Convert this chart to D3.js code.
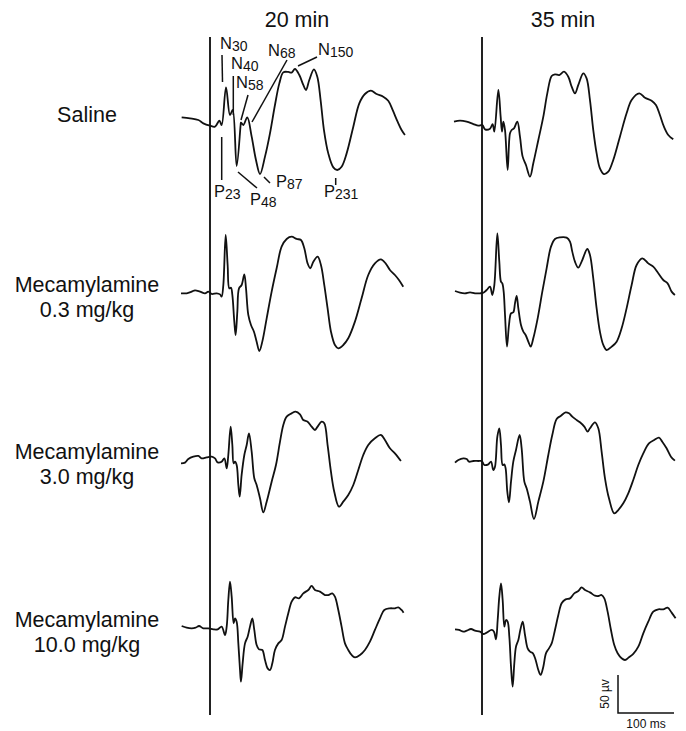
<!DOCTYPE html>
<html>
<head>
<meta charset="utf-8">
<script src="https://cdn.jsdelivr.net/npm/d3@7"></script>
<style>
  body { margin: 0; background: #fff; }
  svg text { font-family: "Liberation Sans", Arial, Helvetica, sans-serif; fill: #111; }
</style>
</head>
<body>
<div class="erp"></div>
<script>
// declare global values
const WIDTH = 686;
const HEIGHT = 731;

// column headers and row labels
const columns = ["20 min", "35 min"];
const rowLabels = [
  ["Saline"],
  ["Mecamylamine", "0.3 mg/kg"],
  ["Mecamylamine", "3.0 mg/kg"],
  ["Mecamylamine", "10.0 mg/kg"],
];

// waveforms: [time (ms), amplitude (µV, negative up)]
const saline20 = [
  [-50.6, -3.5], [-35.7, -2.2], [-20.8, 0], [-11.9, 4.4], [0, 7.5], [8.9, 8.8],
  [16.7, 0.9], [20.8, 6.6], [28.6, -43], [35.7, -6.6], [40.5, -13.2], [47.6, 60.5],
  [54.7, 6.6], [55.3, 3.5], [59.5, 6.6], [66.6, -3.5], [74.4, 21.9], [82.1, 52.6],
  [89.3, 71.1], [98.2, 48.2], [107.1, 17.5], [116, -19.7], [123.8, -48.2], [130.9, -62.7],
  [139.8, -63.2], [145.8, -62.3], [151.7, -67.1], [159.5, -59.2], [166.6, -46.1], [171.4, -39.5],
  [177.3, -52.6], [185.6, -66.7], [191.6, -57], [197.5, -26.3], [203.5, 13.2], [211.2, 43.9],
  [220.2, 62.3], [227.3, 65.8], [235, 61.4], [244, 43.9], [255.9, 8.8], [266.6, -21.9],
  [276.7, -34.2], [287.4, -38.6], [297.5, -34.2], [309.4, -30.7], [318.3, -25.4], [326.1, -13.2],
  [335, 2.2], [342.1, 13.2], [348.1, 19.7],
];
const saline35 = [
  [-50, 2.2], [-39.3, 0.9], [-27.4, 2.2], [-15.5, 5.3], [-6.5, 7.5], [0.6, 6.6],
  [5.4, 12.3], [14.3, 11.4], [19, 5.3], [22, 15.4], [29.2, -39.5], [33.3, -4.4],
  [35.7, 15.4], [38.1, 2.2], [41.1, 13.2], [45.8, 65.8], [50, 17.5], [53, 13.2],
  [57.1, 11], [63.1, 2.2], [67.8, 21.9], [72.6, 48.2], [78.5, 59.2], [85.7, 74.6],
  [91.6, 57], [100.6, 26.3], [109.5, -4.4], [116.6, -35.1], [124.4, -57.9], [130.3, -60.1],
  [138, -59.2], [146.4, -63.6], [154.1, -57], [160.1, -43.9], [166, -35.1], [172, -46.1],
  [180.9, -61.4], [186.8, -54.8], [192.8, -26.3], [198.7, 13.2], [204.7, 43.9], [210.6, 63.6],
  [217.8, 71.1], [225.5, 68], [234.4, 52.6], [246.3, 21.9], [258.2, -8.8], [267.2, -26.3],
  [280.8, -35.1], [291, -29.4], [302.9, -25.4], [310.6, -19.7], [317.7, -6.6], [324.9, 8.8],
  [332.6, 19.7], [341.5, 25.4],
];
const mec03_20 = [
  [-51.8, 0.4], [-41.7, 0.4], [-32.7, -1.8], [-26.8, -3.5], [-17.9, -1.8], [-8.9, 0.4],
  [-3, -1.8], [3, 1.3], [11.9, 0.4], [17.9, 1.8], [20.8, 4.8], [23.8, -10.5],
  [28, -76.3], [31.5, -36.8], [34.5, -6.1], [37.5, -7], [39.9, 2.6], [43.4, 37.7],
  [45.8, 55.3], [48.8, 24.6], [51.8, -6.1], [56.5, -10.5], [61.3, -24.6], [64.3, -6.1],
  [68.4, 28.9], [73.2, 42.1], [78.5, 50.9], [83.3, 64], [88.1, 76.3], [93.4, 64],
  [101.2, 33.3], [110.1, -1.8], [119, -32.5], [127.9, -61], [136.9, -71.1], [145.8, -74.1],
  [154.7, -71.1], [162.4, -69.7], [168.4, -58.8], [174.3, -39], [179.1, -32.5], [184.5, -41.2],
  [192.2, -47.8], [198.1, -36.8], [204.1, -10.5], [210, 20.2], [216, 50.9], [223.1, 68.4],
  [229.1, 72.8], [238, 68.4], [246.9, 59.6], [258.8, 37.7], [270.7, 7], [282.6, -23.7],
  [294.5, -39], [305.2, -44.3], [313.6, -39], [321.3, -30.3], [330.2, -23.7], [337.4, -17.1],
  [345.1, -8.3],
];
const mec03_35 = [
  [-48.2, -2.6], [-39.3, -0.4], [-30.3, 0.4], [-21.4, -0.9], [-12.5, 0.4], [-3.6, 0.4],
  [2.4, -0.4], [8.3, -3.9], [14.3, -8.3], [18.4, 2.6], [22, -10.5], [27.4, -78.5],
  [30.9, -41.2], [33.9, -14.9], [36.3, -12.7], [38.7, -1.8], [41.1, 28.9], [44.6, 70.6],
  [48.2, 42.1], [51.8, 26.8], [55.9, 25.4], [58.9, 13.6], [61.9, 3.9], [64.9, 20.2],
  [69.6, 42.1], [73.8, 50.9], [77.9, 55.3], [82.7, 64], [86.9, 70.6], [91.6, 59.6],
  [99.4, 33.3], [107.7, -1.8], [115.4, -32.5], [123.2, -61], [130.3, -71.1], [139.2, -73.2],
  [151.1, -72.8], [157.1, -67.5], [161.2, -54.4], [166, -41.2], [171.9, -33.3], [177.9, -41.2],
  [188, -57.9], [192.8, -50], [198.7, -19.3], [204.7, 20.2], [210.6, 50.9], [216.6, 68.4],
  [222.5, 75], [231.5, 70.6], [240.4, 64], [249.3, 46.5], [258.2, 20.2], [267.2, -10.5],
  [276.1, -36.8], [286.2, -45.6], [296.9, -39], [305.8, -34.6], [314.8, -25.9], [323.7, -17.1],
  [331.4, -12.7], [338.6, -1.8], [344.5, 2.6],
];
const mec30_20 = [
  [-51.8, 4.4], [-44.6, 3.5], [-38.7, -1.3], [-29.8, -4.4], [-20.8, -5.3], [-14.9, -2.2],
  [-6, -3.5], [3, -4.4], [8.9, -2.2], [13.7, 3.1], [20.8, 2.2], [25.6, -2.2],
  [29.8, 11], [32.7, -6.6], [36.9, -43.9], [39.9, -19.7], [42.2, 4.4], [44.6, 2.2],
  [47.6, 6.6], [50.6, 32.9], [53, 48.2], [56.5, 19.7], [61.3, -6.6], [65.5, -19.7],
  [69.6, -35.1], [74.4, -11], [79.1, 24.1], [83.3, 32.9], [89.3, 50.4], [95.2, 68.9],
  [101.2, 54.8], [110.1, 28.5], [117.8, 6.6], [125, -24.1], [130.9, -46.1], [136.9, -57],
  [145.8, -61.4], [152.9, -63.6], [160.7, -60.1], [166.6, -52.6], [174.3, -50.4], [181.5, -43.9],
  [187.4, -39.5], [192.2, -43.9], [199.3, -50.4], [204.1, -48.2], [210, -19.7], [216, 15.4],
  [221.9, 41.7], [230.3, 61.4], [238, 54.8], [246.9, 46.1], [255.9, 32.9], [264.8, 13.2],
  [273.7, -6.6], [282.6, -19.7], [294.5, -28.5], [305.2, -32.9], [312.4, -26.3], [321.3, -15.4],
  [330.2, -8.8], [340.9, 1.3],
];
const mec30_35 = [
  [-48.2, 3.5], [-42.2, 0], [-33.3, -2.2], [-27.4, -1.3], [-23.2, 2.2], [-15.5, 1.3],
  [-6.5, 1.3], [-0.6, 1.3], [4.2, 6.6], [11.3, 5.7], [16.1, 2.2], [20.2, 13.2],
  [23.2, 8.8], [27.4, -30.7], [30.9, -41.7], [33.9, -19.7], [36.9, 6.6], [39.9, 5.7],
  [42.2, 11], [45.2, 41.7], [48.2, 55.7], [51.8, 28.5], [55.9, 2.2], [60.7, -13.2],
  [67.2, -32.9], [70.8, -15.4], [75.6, 28.5], [79.7, 37.3], [85.7, 54.8], [92.8, 77.6],
  [100.6, 54.8], [109.5, 28.5], [118.4, -6.6], [125.5, -32.9], [133.3, -53.9], [141, -58.3],
  [149.3, -62.7], [155.3, -61.4], [161.2, -57], [169, -52.6], [174.9, -49.6], [182.7, -43.9],
  [188.6, -37.3], [192.8, -41.7], [201.7, -49.6], [207.7, -41.7], [213.6, -11], [219.6, 24.1],
  [226.7, 50.4], [236.2, 70.2], [243.3, 65.8], [252.3, 57], [261.2, 43.9], [270.1, 26.3],
  [279.1, 6.6], [288, -8.8], [298.1, -21.9], [307.6, -26.3], [316, -29.4], [321.9, -24.1],
  [329.6, -15.4], [337.4, -4.4], [344.5, 0.9],
];
const mec100_20 = [
  [-50.6, -2.6], [-41.7, -0.4], [-32.7, 0.4], [-25.6, -0.4], [-19.6, -2.6], [-11.9, 0.4],
  [-3, 0.4], [6, 1.8], [13.7, 1.8], [20.8, -1.8], [26.8, 9.2], [29.8, -1.8],
  [32.7, -36.8], [35.7, -61], [38.7, -41.2], [42.2, -6.1], [44.6, -12.7], [47.6, -8.3],
  [50.6, 20.2], [53.6, 55.3], [55.3, 70.6], [58.3, 46.5], [62.5, 20.2], [67.2, 11.4],
  [71.4, -1.8], [75.6, -12.7], [79.1, 2.6], [83.3, 22.4], [87.5, 28.1], [93.4, 28.9],
  [98.2, 42.1], [102.9, 53.1], [107.1, 55.3], [111.3, 46.5], [116, 28.9], [122, 20.2],
  [127.9, 15.8], [133.9, -1.8], [139.8, -19.3], [145.8, -34.6], [151.7, -40.4], [158.9, -39],
  [166.6, -45.6], [175.5, -50], [181.5, -55.3], [187.4, -50], [196.4, -47.8], [205.3, -43.4],
  [211.2, -43.4], [218.4, -45.6], [223.1, -41.2], [229.1, -23.7], [235, -1.8], [241, 20.2],
  [246.9, 28.9], [252.9, 35.5], [258.8, 38.6], [267.8, 35.5], [276.7, 28.9], [285.6, 18],
  [294.5, 2.6], [303.5, -12.7], [311.2, -23.7], [321.3, -25.9], [330.2, -25.9], [336.2, -27.2],
  [342.1, -23.7], [345.7, -20.2],
];
const mec100_35 = [
  [-48.2, 1.8], [-41.1, 2.6], [-33.3, 4.8], [-27.4, 3.5], [-19.6, 1.3], [-12.5, 3.5],
  [-3.6, 4.8], [2.4, 7.9], [8.3, 6.1], [17.3, 2.6], [21.4, 4.8], [25, 14.9],
  [28, -10.5], [30.9, -41.2], [33.9, -58.8], [36.9, -36.8], [39.9, -1.8], [42.8, -10.5],
  [45.8, -8.3], [48.8, 11.4], [51.8, 50.9], [54.7, 77.2], [57.7, 46.5], [60.7, 24.6],
  [64.9, 15.8], [68.4, 2.6], [72.6, -8.3], [76.8, 9.2], [81.5, 26.8], [85.7, 31.1],
  [91, 33.3], [95.8, 42.1], [100.6, 55.3], [104.7, 61.8], [109.5, 50.9], [114.2, 33.3],
  [119.6, 26.8], [124.4, 20.2], [130.3, 2.6], [136.3, -17.1], [142.2, -32.5], [149.3, -37.7],
  [157.1, -39], [164.8, -45.6], [172, -48.7], [177.9, -53.5], [183.9, -50], [192.8, -46.9],
  [201.7, -42.5], [207.7, -42.1], [213.6, -43.4], [218.4, -39], [224.3, -21.5], [230.3, 2.6],
  [236.2, 22.4], [242.2, 33.3], [249.3, 39.9], [255.3, 42.1], [262.4, 38.6], [270.1, 34.2],
  [279.1, 24.6], [288, 7], [296.9, -8.3], [305.8, -21.5], [314.8, -24.6], [323.7, -24.6],
  [331.4, -26.8], [338.6, -20.2], [345.7, -12.7],
];

// peak names on the saline 20 min trace
const peakNames = [
  ["N", "30"], ["N", "40"], ["N", "58"], ["N", "68"], ["N", "150"],
  ["P", "23"], ["P", "48"], ["P", "87"], ["P", "231"],
];

// scale bar values
const SCALE_MS = 100;
const SCALE_UV = 50;

// layout
const traces = [
  [saline20, saline35],
  [mec03_20, mec03_35],
  [mec30_20, mec30_35],
  [mec100_20, mec100_35],
];
const ROW_BASE = [120, 293, 460, 628];
const COL_ZERO = [210, 482];
const PX_PER_MS = 0.56;
const PX_PER_UV = 0.76;
const LABEL_X = 87;

// label position + leader line for each peak name
const peakLayout = [
  { x: 220, y: 49, line: [222, 55, 222.5, 82] },
  { x: 231, y: 69, line: [233.3, 76, 233.3, 115] },
  { x: 236, y: 88, line: [248, 95, 241, 120] },
  { x: 268, y: 56, line: [287, 60, 252, 122] },
  { x: 318, y: 55, line: [317, 57, 298, 66] },
  { x: 214, y: 197, line: [221.7, 137, 221.7, 180] },
  { x: 250, y: 205, line: [238, 172, 257, 188] },
  { x: 276, y: 187, line: [264, 177, 270, 183] },
  { x: 324, y: 197, line: [335.7, 178, 335.7, 185] },
];

var svg = d3
  .select(".erp")
  .append("svg")
  .attr("width", WIDTH)
  .attr("height", HEIGHT);

// one x scale per column, one y scale per row
var xs = COL_ZERO.map(function (z) {
  return d3.scaleLinear().domain([0, 100]).range([z, z + 100 * PX_PER_MS]);
});
var ys = ROW_BASE.map(function (b) {
  return d3.scaleLinear().domain([0, 100]).range([b, b + 100 * PX_PER_UV]);
});

// stimulus onset lines
xs.forEach(function (x) {
  svg
    .append("line")
    .attr("x1", x(0))
    .attr("x2", x(0))
    .attr("y1", 37)
    .attr("y2", 715)
    .attr("stroke", "#222")
    .attr("stroke-width", 2);
});

// column headers
columns.forEach(function (c, i) {
  svg
    .append("text")
    .attr("x", i == 0 ? 297 : 563)
    .attr("y", 27)
    .attr("text-anchor", "middle")
    .attr("font-size", 21.5)
    .text(c);
});

// row labels
rowLabels.forEach(function (lines, r) {
  var t = svg
    .append("text")
    .attr("text-anchor", "middle")
    .attr("font-size", 21.5);
  lines.forEach(function (s, k) {
    t.append("tspan")
      .attr("x", LABEL_X)
      .attr("y", ROW_BASE[r] + (lines.length == 1 ? 2 : -1 + k * 24.5))
      .text(s);
  });
});

// the waveforms
traces.forEach(function (row, r) {
  row.forEach(function (data, c) {
    var valueLine = d3
      .line()
      .x(function (d) {
        return xs[c](d[0]);
      })
      .y(function (d) {
        return ys[r](d[1]);
      })
      .curve(d3.curveCatmullRom.alpha(0.5));

    svg
      .append("path")
      .datum(data)
      .attr("d", valueLine)
      .attr("fill", "none")
      .attr("stroke", "#111")
      .attr("stroke-width", 1.8)
      .attr("stroke-linejoin", "round");
  });
});

// peak names with leader lines
peakNames.forEach(function (p, i) {
  var lay = peakLayout[i];
  var t = svg.append("text").attr("x", lay.x).attr("y", lay.y);
  t.append("tspan").attr("font-size", 16.5).text(p[0]);
  t.append("tspan").attr("font-size", 14).attr("dy", 1.5).text(p[1]);
  svg
    .append("line")
    .attr("x1", lay.line[0])
    .attr("y1", lay.line[1])
    .attr("x2", lay.line[2])
    .attr("y2", lay.line[3])
    .attr("stroke", "#111")
    .attr("stroke-width", 1.5);
});

// scale bar
var bx = 618, by = 713;
var barW = xs[1](SCALE_MS) - xs[1](0);
var barH = ys[3](SCALE_UV) - ys[3](0);
svg
  .append("path")
  .attr("d", "M" + bx + "," + (by - barH) + "V" + by + "H" + (bx + barW))
  .attr("fill", "none")
  .attr("stroke", "#111")
  .attr("stroke-width", 1.5);
svg
  .append("text")
  .attr("transform", "translate(" + (bx - 9) + "," + (by - barH / 2) + ") rotate(-90)")
  .attr("text-anchor", "middle")
  .attr("font-size", 12)
  .text(SCALE_UV + " µv");
svg
  .append("text")
  .attr("x", bx + barW / 2)
  .attr("y", 728)
  .attr("text-anchor", "middle")
  .attr("font-size", 12)
  .text(SCALE_MS + " ms");
</script>
</body>
</html>
